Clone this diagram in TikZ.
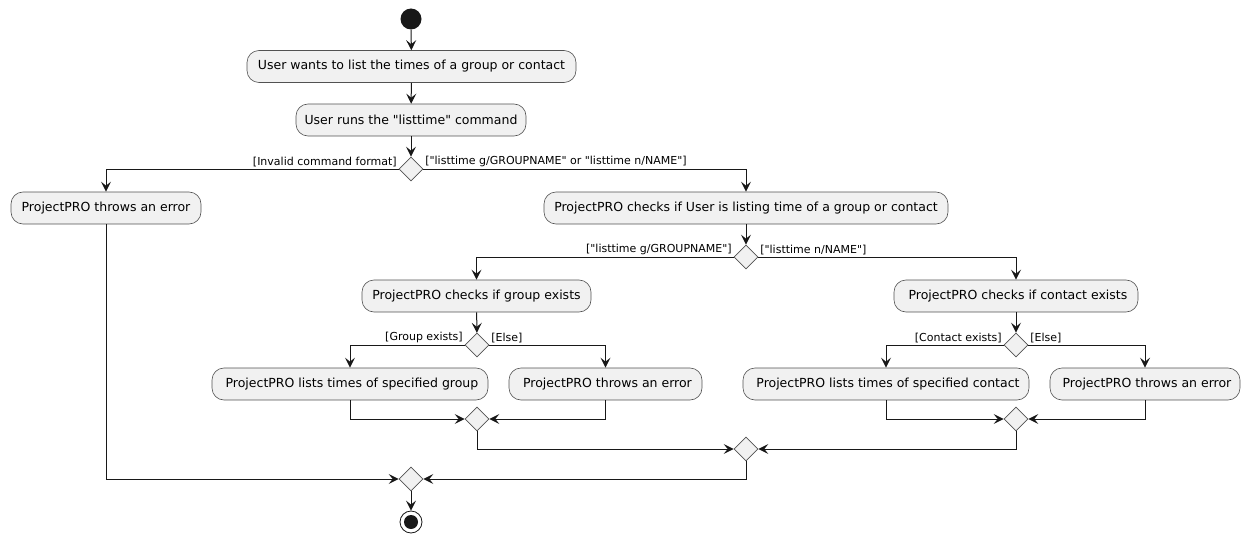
\documentclass[tikz,border=0pt]{standalone}
\usepackage{fontspec}
\setmainfont{DejaVu Sans}[Ligatures=TeXOff]
\usetikzlibrary{shapes.geometric,arrows.meta}
\definecolor{lc}{HTML}{181818}
\definecolor{bf}{HTML}{F1F1F1}
\tikzset{
  act/.style={draw=lc!75, line width=0.6pt, fill=bf, rounded corners=12pt, minimum height=32pt, inner xsep=0pt, font=\fontsize{12.5}{14}\selectfont},
  dia/.style={draw=lc!75, line width=0.6pt, fill=bf, diamond, minimum width=24pt, minimum height=24pt, inner sep=0pt},
  arr/.style={draw=lc, line width=1pt, -{Stealth[length=10pt,width=10pt,inset=4pt]}},
  lbl/.style={font=\fontsize{11}{12}\selectfont, inner sep=1.5pt}
}
\begin{document}
\begin{tikzpicture}[x=1pt,y=-1pt]
\useasboundingbox (0,0) rectangle (1254,543);
\node[circle, fill=lc, minimum size=21pt, inner sep=0pt] (start) at (411,19) {};
\node[act, minimum width=329pt] (b1) at (411.5,66.5) {User wants to list the times of a group or contact};
\node[act, minimum width=230pt] (b2) at (411,120) {User runs the "listtime" command};
\node[dia] (d1) at (411,169) {};
\node[act, minimum width=190pt] (e0) at (106,208) {ProjectPRO throws an error};
\node[act, minimum width=404pt] (c1) at (746,208) {ProjectPRO checks if User is listing time of a group or contact};
\node[dia] (d2) at (746,257) {};
\node[act, minimum width=229pt] (g1) at (476.5,296) {ProjectPRO checks if group exists};
\node[act, minimum width=244pt] (k1) at (1016,296) {\ ProjectPRO checks if contact exists};
\node[dia] (d3) at (477,345) {};
\node[act, minimum width=276pt] (g2) at (350,384) {\ ProjectPRO lists times of specified group};
\node[act, minimum width=193pt] (g3) at (605.5,384) {\ ProjectPRO throws an error};
\node[dia] (m3) at (477,419) {};
\node[dia] (d4) at (1016,345) {};
\node[act, minimum width=286pt] (k2) at (886,384) {\ ProjectPRO lists times of specified contact};
\node[act, minimum width=190pt] (k3) at (1145,384) {\ ProjectPRO throws an error};
\node[dia] (m4) at (1016,419) {};
\node[dia] (m2) at (746,449) {};
\node[dia] (m1) at (411,479) {};
\node[circle, draw=lc, line width=0.8pt, fill=white, minimum size=22pt, inner sep=0pt] (end) at (411,522) {};
\fill[lc] (end.center) circle (7pt);

\draw[arr] (start) -- (b1);
\draw[arr] (b1) -- (b2);
\draw[arr] (b2) -- (d1);
\draw[arr] (d1.west) node[lbl, anchor=south east]{[Invalid command format]} -| (e0.north);
\draw[arr] (d1.east) node[lbl, anchor=south west]{["listtime g/GROUPNAME" or "listtime n/NAME"]} -| (c1.north);
\draw[arr] (c1) -- (d2);
\draw[arr] (d2.west) node[lbl, anchor=south east]{["listtime g/GROUPNAME"]} -| (g1.north);
\draw[arr] (d2.east) node[lbl, anchor=south west]{["listtime n/NAME"]} -| (k1.north);
\draw[arr] (g1) -- (d3);
\draw[arr] (d3.west) node[lbl, anchor=south east]{[Group exists]} -| (g2.north);
\draw[arr] (d3.east) node[lbl, anchor=south west]{[Else]} -| (g3.north);
\draw[arr] (g2.south) |- (m3.west);
\draw[arr] (g3.south) |- (m3.east);
\draw[arr] (k1) -- (d4);
\draw[arr] (d4.west) node[lbl, anchor=south east]{[Contact exists]} -| (k2.north);
\draw[arr] (d4.east) node[lbl, anchor=south west]{[Else]} -| (k3.north);
\draw[arr] (k2.south) |- (m4.west);
\draw[arr] (k3.south) |- (m4.east);
\draw[arr] (m3.south) |- (m2.west);
\draw[arr] (m4.south) |- (m2.east);
\draw[arr] (e0.south) |- (m1.west);
\draw[arr] (m2.south) |- (m1.east);
\draw[arr] (m1) -- (end);
\end{tikzpicture}
\end{document}
